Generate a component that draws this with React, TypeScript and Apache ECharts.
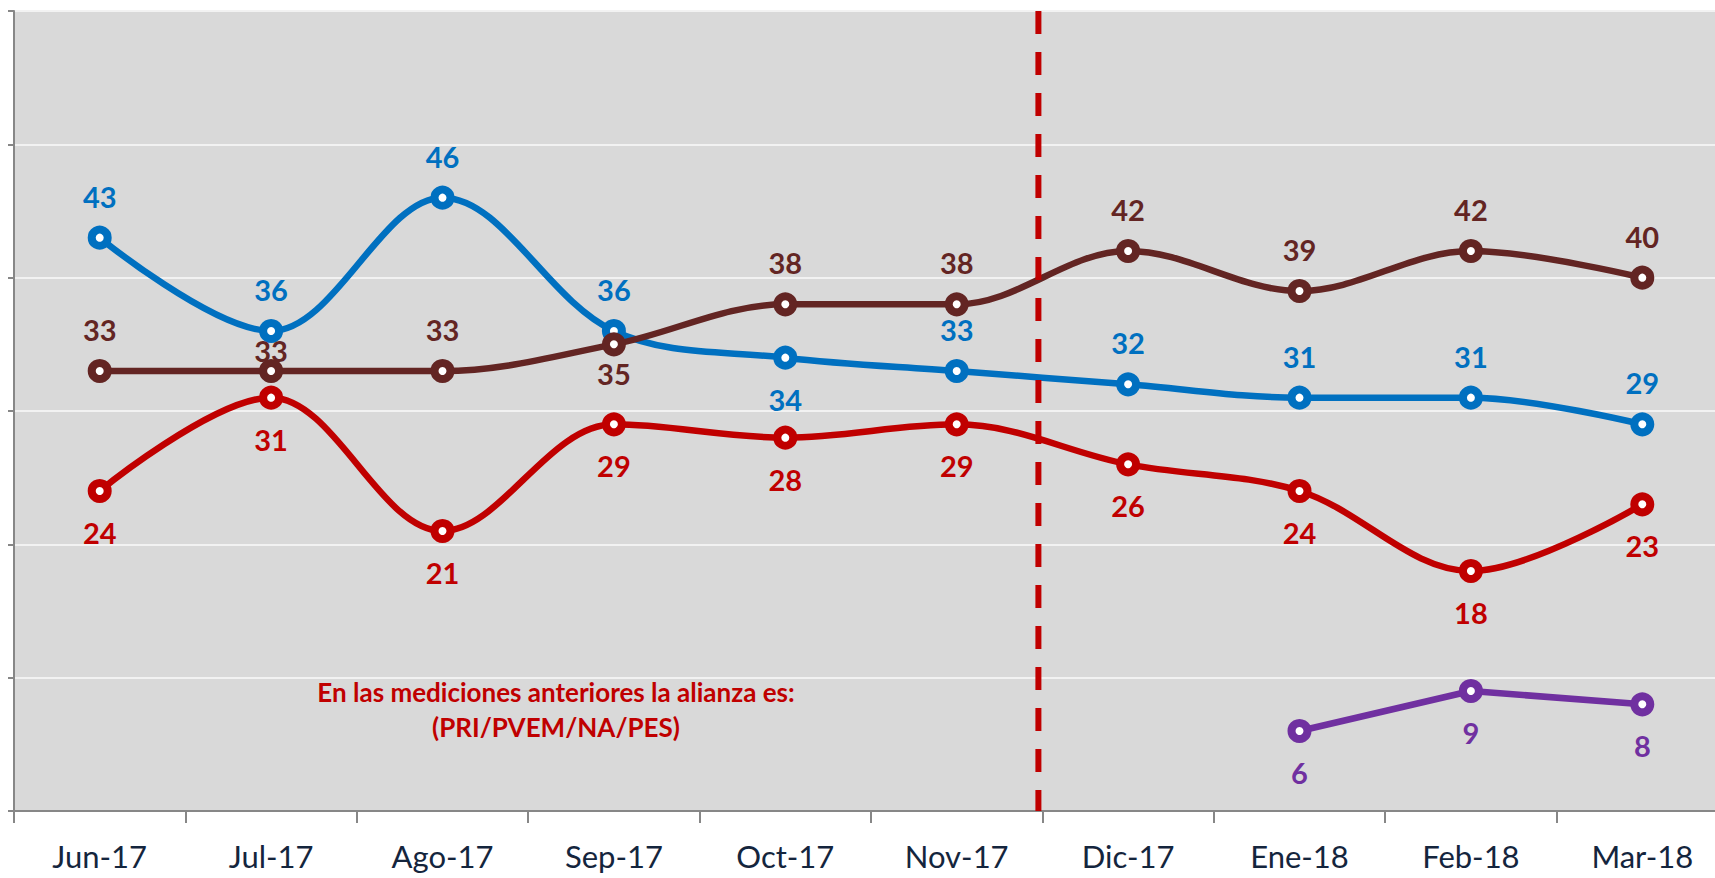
import React, { useEffect, useRef } from "react";
import * as echarts from "echarts";

const categories = ["Jun-17", "Jul-17", "Ago-17", "Sep-17", "Oct-17", "Nov-17", "Dic-17", "Ene-18", "Feb-18", "Mar-18"];
const blueValues = [43, 36, 46, 36, 34, 33, 32, 31, 31, 29];
const brownValues = [33, 33, 33, 35, 38, 38, 42, 39, 42, 40];
const redValues = [24, 31, 21, 29, 28, 29, 26, 24, 18, 23];
const purpleValues: (number | null)[] = [null, null, null, null, null, null, null, 6, 9, 8];
const noteText = "En las mediciones anteriores la alianza es:\n(PRI/PVEM/NA/PES)";

const BLUE = "#0070C0";
const BROWN = "#632523";
const RED = "#C00000";
const PURPLE = "#7030A0";
const FONT = "Lato, 'Open Sans', sans-serif";

function makeSeries(name: string, data: (number | null)[], color: string, pos: "top" | "bottom", smooth: number | boolean, overrides: Record<number, any> = {}) {
  return {
    name,
    type: "line",
    smooth,
    data: data.map((v, i) => (overrides[i] ? { value: v, label: overrides[i] } : v)),
    symbol: "circle",
    symbolSize: 16,
    showSymbol: true,
    lineStyle: { color, width: 6.5 },
    itemStyle: { color: "#FFFFFF", borderColor: color, borderWidth: 8 },
    label: {
      show: true,
      position: pos,
      distance: 15,
      color,
      fontFamily: FONT,
      fontWeight: "bold",
      fontSize: 29,
    },
    emphasis: { disabled: true },
    z: 3,
  };
}

export default function App() {
  const ref = useRef<HTMLDivElement>(null);
  useEffect(() => {
    if (!ref.current) return;
    const chart = echarts.init(ref.current, undefined, { renderer: "svg" });
    chart.setOption({
      animation: false,
      backgroundColor: "#FFFFFF",
      grid: {
        left: 14,
        top: 11,
        width: 1714,
        height: 800,
        show: true,
        backgroundColor: "#D9D9D9",
        borderWidth: 0,
        containLabel: false,
        outerBoundsMode: "none",
      },
      xAxis: {
        type: "category",
        data: categories,
        boundaryGap: true,
        axisLine: { lineStyle: { color: "#878787", width: 2 } },
        axisTick: { show: true, length: 12, alignWithLabel: false, lineStyle: { color: "#878787", width: 2 } },
        axisLabel: { color: "#14253D", fontFamily: FONT, fontSize: 31, margin: 29, interval: 0 },
        splitLine: { show: false },
      },
      yAxis: {
        type: "value",
        min: 0,
        max: 60,
        interval: 10,
        axisLine: { show: true, lineStyle: { color: "#878787", width: 2 } },
        axisTick: { show: true, length: 6, lineStyle: { color: "#878787", width: 2 } },
        axisLabel: { show: false },
        splitLine: { show: true, lineStyle: { color: "#F2F2F2", width: 2 } },
      },
      series: [
        makeSeries("Azul", blueValues, BLUE, "top", 0.35, {
          4: { position: "bottom" },
        }),
        makeSeries("Rojo", redValues, RED, "bottom", 0.35),
        makeSeries("Café", brownValues, BROWN, "top", 0.35, {
          1: { distance: -6 },
          3: { position: "bottom", distance: 3 },
        }),
        makeSeries("Morado", purpleValues, PURPLE, "bottom", false),
      ],
    });

    const xNov = chart.convertToPixel({ xAxisIndex: 0 }, 5) as number;
    const xDic = chart.convertToPixel({ xAxisIndex: 0 }, 6) as number;
    const yTop = chart.convertToPixel({ yAxisIndex: 0 }, 60) as number;
    const yBottom = chart.convertToPixel({ yAxisIndex: 0 }, 0) as number;
    const xDash = (xNov + xDic) / 2 - 4;

    chart.setOption({
      graphic: [
        {
          type: "line",
          shape: { x1: xDash, y1: yTop, x2: xDash, y2: yBottom },
          style: { stroke: RED, lineWidth: 6, lineDash: [23, 18] },
          z: 10,
        },
        {
          type: "text",
          x: 556,
          y: 709,
          style: {
            text: noteText,
            fill: RED,
            font: `bold 26px ${FONT}`,
            textAlign: "center",
            textVerticalAlign: "middle",
            lineHeight: 35,
          },
          z: 10,
        },
      ],
    });

    return () => chart.dispose();
  }, []);

  return (
    <div
      ref={ref}
      style={{ position: "fixed", left: 0, top: 0, width: 1715, height: 878 }}
    />
  );
}
